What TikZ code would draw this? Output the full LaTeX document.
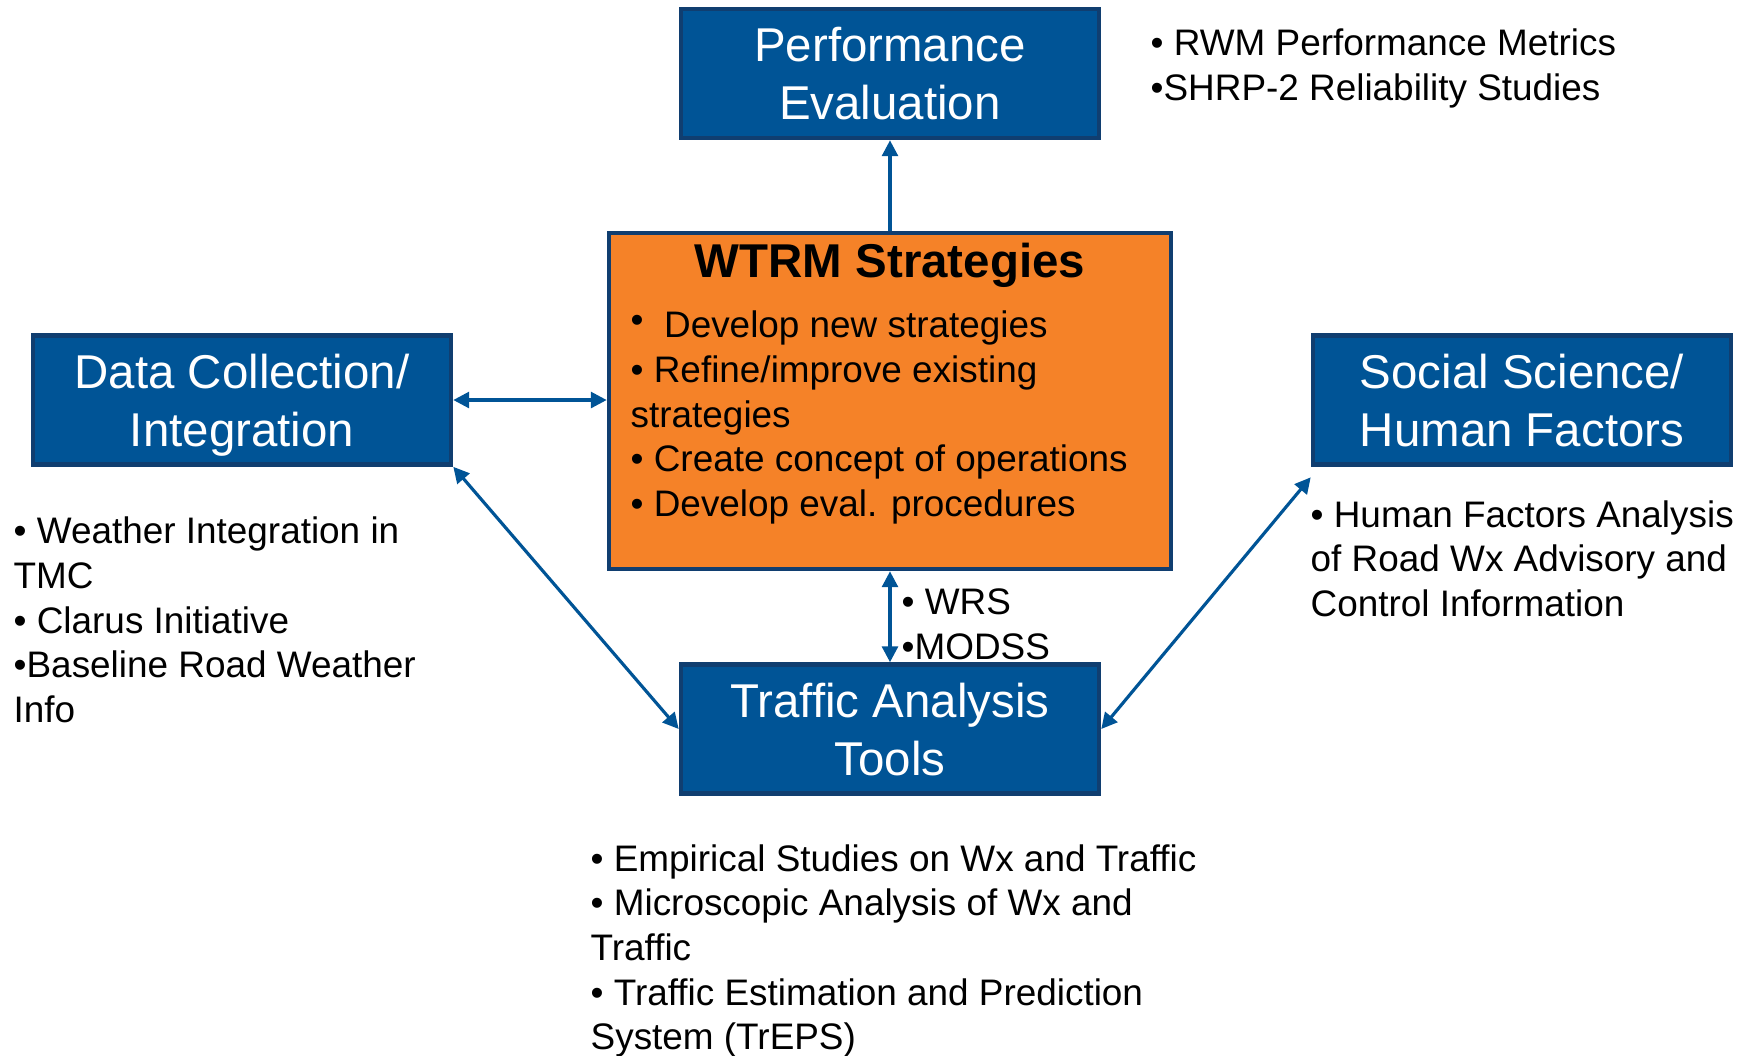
\documentclass[tikz,border=0pt]{standalone}
\usepackage{fontspec}
\setmainfont{Liberation Sans}
\usetikzlibrary{arrows.meta}
\definecolor{boxblue}{RGB}{0,84,150}
\definecolor{rimblue}{RGB}{16,62,112}
\definecolor{stratorange}{RGB}{245,130,40}

\begin{document}
\begin{tikzpicture}[
    topic/.style={draw=rimblue, line width=1.3pt, fill=boxblue, text=white,
      minimum width=4.18cm, minimum height=1.29cm, align=center, inner sep=0pt,
      text depth=0pt, font=\fontsize{13.5}{16.5}\selectfont},
    notes/.style={anchor=west, align=left, inner sep=0pt,
      font=\fontsize{10.5}{12.7}\selectfont},
    >={Triangle[length=4.5pt,width=4.5pt]}
  ]
  \useasboundingbox (0,0) rectangle (17.48,-10.55);
  \node[draw=rimblue, line width=1.3pt, fill=stratorange,
    minimum width=5.62cm, minimum height=3.36cm] (wtrm) at (8.90,-4.01) {};
  \node[font=\bfseries\fontsize{13.5}{16.5}\selectfont] (title) at (8.90,-2.655) {WTRM Strategies};
  \node[notes] (tasks) at (6.30,-4.175)
    {\raisebox{1.5pt}{•}\ \ Develop new strategies\\• Refine/improve existing\\strategies\\• Create concept of operations\\• Develop eval. procedures};
  \node[topic] (perf) at (8.90,-0.735) {Performance\\Evaluation};
  \node[topic] (data) at (2.42,-4.00) {Data Collection/\\Integration};
  \node[topic] (social) at (15.22,-4.00) {Social Science/\\Human Factors};
  \node[topic] (tools) at (8.90,-7.29) {Traffic Analysis\\Tools};
  % side notes
  \node[notes] (perfnotes) at (11.50,-0.685) {• RWM Performance Metrics\\•SHRP-2 Reliability Studies};
  \node[notes] (datanotes) at (0.13,-6.20)
    {• Weather Integration in\\TMC\\• Clarus Initiative\\•Baseline Road Weather\\Info};
  \node[notes] (socialnotes) at (13.10,-5.585)
    {• Human Factors Analysis\\of Road Wx Advisory and\\Control Information};
  \node[notes] (modelnotes) at (9.01,-6.245) {• WRS\\•MODSS};
  \node[notes] (studynotes) at (5.90,-9.51)
    {• Empirical Studies on Wx and Traffic\\• Microscopic Analysis of Wx and\\Traffic\\• Traffic Estimation and Prediction\\System (TrEPS)};
  \begin{scope}[draw=boxblue, line width=0.9pt]
    \draw[->] (wtrm) -- (perf);
    \draw[<->] (data.east) -- (data.east -| wtrm.west);
    \draw[<->] (wtrm) -- (tools);
    \draw[<->] (data.south east) -- (tools.west);
    \draw[<->] ([yshift=-3pt]social.south west) -- (tools.east);
  \end{scope}
\end{tikzpicture}
\end{document}
